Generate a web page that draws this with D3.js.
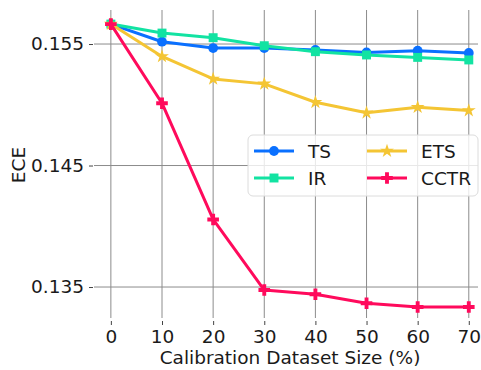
<!DOCTYPE html>
<html>
<head>
<meta charset="utf-8">
<script src="https://cdn.jsdelivr.net/npm/d3@7"></script>
<style>
  body { margin: 0; background: #fff; }
  svg { display: block; }
  text { font-family: "DejaVu Sans", sans-serif; fill: #1a1a1a; }
</style>
</head>
<body>
<svg width="481" height="370"></svg>
<script>
// x positions (calibration set size, %)
var sizes = [0, 10, 20, 30, 40, 50, 60, 70];
// ECE per method
var ts   = [0.15664, 0.15519, 0.15467, 0.15467, 0.15451, 0.15431, 0.15445, 0.15426];
var ir   = [0.15664, 0.15590, 0.15552, 0.15486, 0.15437, 0.15410, 0.15390, 0.15369];
var ets  = [0.15664, 0.15398, 0.15213, 0.15172, 0.15021, 0.14934, 0.14980, 0.14953];
var cctr = [0.15664, 0.15013, 0.14056, 0.13475, 0.13440, 0.13366, 0.13336, 0.13336];
var names = ["TS", "IR", "ETS", "CCTR"];
var yTicks = [0.135, 0.145, 0.155];

var colors = ["#0a70ff", "#12e3a2", "#f4c534", "#ff0a5c"];
var symbols = [d3.symbolCircle, d3.symbolSquare, d3.symbolStar, d3.symbolCross];
var symSize = [75, 80, 60, 75];
var series = [ts, ir, ets, cctr];

var svg = d3.select("svg");
// plot box (don't use "top" as a global name, it's window.top)
var pLeft = 94, pRight = 478, pTop = 10, pBottom = 318;

var x = d3.scaleLinear().domain([-3.3, 71.8]).range([pLeft, pRight]);
var y = d3.scaleLinear().domain([0.13245, 0.1578]).range([pBottom, pTop]);

// vertical grid
svg.append("g")
  .selectAll("line")
  .data(sizes)
  .enter()
  .append("line")
  .attr("x1", d => x(d)).attr("x2", d => x(d))
  .attr("y1", pTop).attr("y2", pBottom)
  .attr("stroke", "#8c8c8c")
  .attr("stroke-width", 1);

// horizontal grid
svg.append("g")
  .selectAll("line")
  .data(yTicks)
  .enter()
  .append("line")
  .attr("x1", pLeft).attr("x2", pRight)
  .attr("y1", d => y(d)).attr("y2", d => y(d))
  .attr("stroke", "#8c8c8c")
  .attr("stroke-width", 1);

// x axis: ticks only, no domain line
var xAxis = svg.append("g")
  .attr("transform", "translate(0," + (pBottom + 3) + ")")
  .call(d3.axisBottom(x).tickValues(sizes).tickSize(4).tickPadding(5).tickFormat(d3.format("d")));
xAxis.select(".domain").remove();
xAxis.selectAll("line").attr("stroke", "#444");
xAxis.selectAll("text").style("font-size", "18.5px").attr("fill", "#1a1a1a");

// y axis
var yAxis = svg.append("g")
  .attr("transform", "translate(" + (pLeft - 1) + ",0)")
  .call(d3.axisLeft(y).tickValues(yTicks).tickSize(4).tickPadding(5).tickFormat(d3.format(".3f")));
yAxis.select(".domain").remove();
yAxis.selectAll("line").attr("stroke", "#444");
yAxis.selectAll("text").style("font-size", "18.5px").attr("fill", "#1a1a1a");

// axis titles
svg.append("text")
  .attr("x", 290)
  .attr("y", 364)
  .attr("text-anchor", "middle")
  .style("font-size", "18.5px")
  .text("Calibration Dataset Size (%)");

svg.append("text")
  .attr("transform", "translate(25,165) rotate(-90)")
  .attr("text-anchor", "middle")
  .style("font-size", "18.5px")
  .text("ECE");

// lines + markers
var line = d3.line()
  .x((d, i) => x(sizes[i]))
  .y(d => y(d));

series.forEach(function (s, k) {
  var g = svg.append("g");
  g.append("path")
    .datum(s)
    .attr("d", line)
    .attr("fill", "none")
    .attr("stroke", colors[k])
    .attr("stroke-width", 3)
    .attr("stroke-linejoin", "round");
  g.selectAll("path.m")
    .data(s)
    .enter()
    .append("path")
    .attr("class", "m")
    .attr("transform", (d, i) => "translate(" + x(sizes[i]) + "," + y(d) + ")")
    .attr("d", d3.symbol().type(symbols[k]).size(symSize[k]))
    .attr("fill", colors[k]);
});

// legend
var leg = svg.append("g").attr("transform", "translate(248,135)");
leg.append("rect")
  .attr("width", 230)
  .attr("height", 61)
  .attr("rx", 5)
  .attr("fill", "#fff")
  .attr("fill-opacity", 0.8)
  .attr("stroke", "#dcdcdc");

names.forEach(function (n, k) {
  var col = Math.floor(k / 2), row = k % 2;
  var lx = 6 + col * 113, ly = 16 + row * 27;
  var e = leg.append("g").attr("transform", "translate(" + lx + "," + ly + ")");
  e.append("line")
    .attr("x1", 0).attr("x2", 40)
    .attr("stroke", colors[k])
    .attr("stroke-width", 3);
  e.append("path")
    .attr("transform", "translate(20,0)")
    .attr("d", d3.symbol().type(symbols[k]).size(symSize[k]))
    .attr("fill", colors[k]);
  e.append("text")
    .attr("x", 54)
    .attr("y", 6.5)
    .style("font-size", "18.5px")
    .text(n);
});
</script>
</body>
</html>
